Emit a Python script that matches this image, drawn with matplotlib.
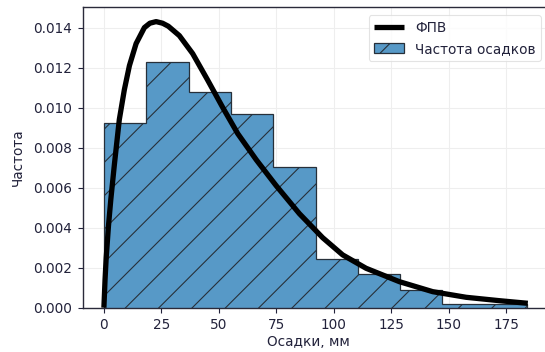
import numpy as np
import matplotlib
matplotlib.use("Agg")
import matplotlib.pyplot as plt

# histogram of precipitation (density)
bin_edges = [0, 18.4, 36.8, 55.2, 73.6, 92.0, 110.4, 128.8, 147.2, 165.6, 184.0]
densities = [0.00925, 0.01229, 0.01077, 0.00967, 0.00705,
             0.00242, 0.00169, 0.00089, 0.00017, 0.00017]

# fitted PDF curve
pdf_x = [0, 0.5, 1.0, 2.0, 3.0, 4.6, 6.7, 8.9, 11.1, 14.0, 17.6, 20.0, 22.7,
         25.5, 28.0, 32.8, 38.6, 45.0, 51.7, 58.2, 66.2, 74.9, 85.0, 95.1,
         103.8, 114.0, 128.5, 143.0, 157.5, 172.0, 184.3]
pdf_y = [0, 0.0014, 0.0025, 0.0041, 0.0054, 0.0072, 0.0094, 0.0109, 0.0121,
         0.0132, 0.0140, 0.01422, 0.0143, 0.01422, 0.01407, 0.0136, 0.0127,
         0.0114, 0.0100, 0.0087, 0.0074, 0.0061, 0.0047, 0.0035, 0.00264,
         0.00197, 0.0013, 0.0008, 0.00052, 0.00035, 0.00022]

text_col = "#22223b"
plt.rcParams.update({
    "font.family": ["DejaVu Sans"],
    "font.size": 9.8,
    "text.color": text_col,
    "axes.labelcolor": text_col,
    "xtick.color": text_col,
    "ytick.color": text_col,
    "xtick.major.size": 3.6,
    "ytick.major.size": 3.6,
    "xtick.major.width": 0.8,
    "ytick.major.width": 0.8,
    "xtick.major.pad": 4.0,
    "ytick.major.pad": 4.0,
    "hatch.linewidth": 0.8,
})

fig = plt.figure(figsize=(5.45, 3.52), dpi=100)
ax = fig.add_axes([82.7 / 545, 1 - 307.7 / 352, (549 - 82.7) / 545, (307.7 - 7.3) / 352])

ax.grid(True, color="#eeeeee", lw=0.8, zorder=0)
ax.set_axisbelow(True)

hist = ax.stairs(densities, bin_edges, fill=True, facecolor="#5799c7",
                 edgecolor="#27303a", lw=0.9, hatch="/", zorder=2,
                 label="Частота осадков")
line, = ax.plot(pdf_x, pdf_y, color="black", lw=3.8, solid_joinstyle="round",
                solid_capstyle="butt", zorder=3, label="ФПВ")

ax.set_xticks([0, 25, 50, 75, 100, 125, 150, 175])
ax.set_yticks(np.arange(0, 0.0141, 0.002))
ax.yaxis.set_major_formatter(matplotlib.ticker.FormatStrFormatter("%.3f"))
ax.set_ylim(bottom=0)

ax.set_xlabel("Осадки, мм")
ax.xaxis.set_label_coords(0.483, -0.09)
ax.set_ylabel("Частота", labelpad=6)

for s in ax.spines.values():
    s.set_color("#2a2a3a")
    s.set_linewidth(1.0)

leg = ax.legend(handles=[line, hist], loc="upper right", frameon=True,
                handlelength=2.2, borderaxespad=0.6)
leg.get_frame().set_edgecolor("#dddddd")
leg.get_frame().set_linewidth(0.8)

fig.savefig("out.png", dpi=100)
